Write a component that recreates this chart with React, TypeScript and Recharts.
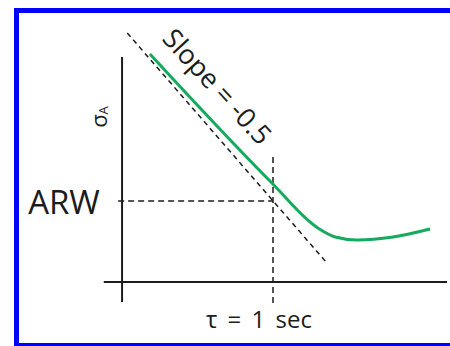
import React from "react";
import { ComposedChart, Line, XAxis, YAxis, ReferenceLine } from "recharts";

// log10(tau) and log10(sigma_A) of the measured Allan deviation curve (schematic)
const curveLogTau = [-2.83, -0.07, 1.03, 1.43, 1.93, 2.76, 3.61];
const curveLogSigma = [1.47, 0.2, -0.27, -0.36, -0.39, -0.36, -0.28];

// slope = -0.5 asymptote
const slopeLogTau = [-3.35, 1.2];
const slopeLogSigma = [1.68, -0.6];

// guide lines
const arwLevel = 0; // sigma at tau = 1 s
const tauOne = 0; // log10(1 s)
const yAxisX = -3.47;
const yAxisRange = [1.44, -1.01];
const xAxisY = -0.81;
const xAxisRange = [-3.89, 4.0];
const arwRange = [-3.56, 0];
const tauRange = [0.44, -1.05];

const labels = {
  arw: "ARW",
  sigma: "σ",
  sigmaSub: "A",
  slope: "Slope = -0.5",
  tau: "τ = 1 sec",
};

const curveData = curveLogTau.map((x, i) => ({ x, y: curveLogSigma[i] }));
const slopeData = slopeLogTau.map((x, i) => ({ x, s: slopeLogSigma[i] }));

const FONT = "'Open Sans', 'Noto Sans', sans-serif";
const INK = "#1c1c1c";
const FRAME = "#0000ff";

export default function App() {
  return (
    <div
      style={{
        position: "absolute",
        left: 0,
        top: 0,
        width: 450,
        height: 346,
        overflow: "hidden",
        background: "#ffffff",
      }}
    >
      <ComposedChart
        width={450}
        height={346}
        margin={{ left: 99, right: 3, top: 21, bottom: 15 }}
      >
        <XAxis
          type="number"
          dataKey="x"
          domain={[-4, 4]}
          allowDataOverflow
          hide
        />
        <YAxis type="number" domain={[-1.3, 1.8]} allowDataOverflow hide />
        <path
          d="M 450 10.5 L 16.5 10.5 L 16.5 345.5 L 450 345.5"
          fill="none"
          stroke={FRAME}
          strokeWidth={5}
        />
        <ReferenceLine
          segment={[
            { x: yAxisX, y: yAxisRange[0] },
            { x: yAxisX, y: yAxisRange[1] },
          ]}
          stroke={INK}
          strokeWidth={2}
          ifOverflow="visible"
        />
        <ReferenceLine
          segment={[
            { x: xAxisRange[0], y: xAxisY },
            { x: xAxisRange[1], y: xAxisY },
          ]}
          stroke={INK}
          strokeWidth={2}
          ifOverflow="visible"
        />
        <ReferenceLine
          segment={[
            { x: arwRange[0], y: arwLevel },
            { x: arwRange[1], y: arwLevel },
          ]}
          stroke={INK}
          strokeWidth={1.5}
          strokeDasharray="6 4"
          ifOverflow="visible"
        />
        <ReferenceLine
          segment={[
            { x: tauOne, y: tauRange[0] },
            { x: tauOne, y: tauRange[1] },
          ]}
          stroke={INK}
          strokeWidth={1.5}
          strokeDasharray="6 4"
          ifOverflow="visible"
        />
        <Line
          data={slopeData}
          dataKey="s"
          type="linear"
          stroke={INK}
          strokeWidth={1.5}
          strokeDasharray="5 4"
          dot={false}
          activeDot={false}
          isAnimationActive={false}
        />
        <Line
          data={curveData}
          dataKey="y"
          type="monotone"
          stroke="#14ab5c"
          strokeWidth={3}
          dot={false}
          activeDot={false}
          isAnimationActive={false}
        />
        <text
          x={64}
          y={214}
          textAnchor="middle"
          fontFamily={FONT}
          fontSize={33}
          fill={INK}
        >
          {labels.arw}
        </text>
        <text
          x={107}
          y={117}
          transform="rotate(-90 107 117)"
          textAnchor="middle"
          fontFamily={FONT}
          fontSize={22}
          fill={INK}
        >
          {labels.sigma}
          <tspan fontSize={13} dy={1}>
            {labels.sigmaSub}
          </tspan>
        </text>
        <text
          x={218}
          y={86}
          transform="rotate(47.4 218 86)"
          textAnchor="middle"
          dominantBaseline="central"
          fontFamily={FONT}
          fontSize={27}
          fill={INK}
        >
          {labels.slope}
        </text>
        <text
          x={259}
          y={328}
          textAnchor="middle"
          fontFamily={FONT}
          fontSize={24}
          wordSpacing={4}
          fill={INK}
        >
          {labels.tau}
        </text>
      </ComposedChart>
    </div>
  );
}
